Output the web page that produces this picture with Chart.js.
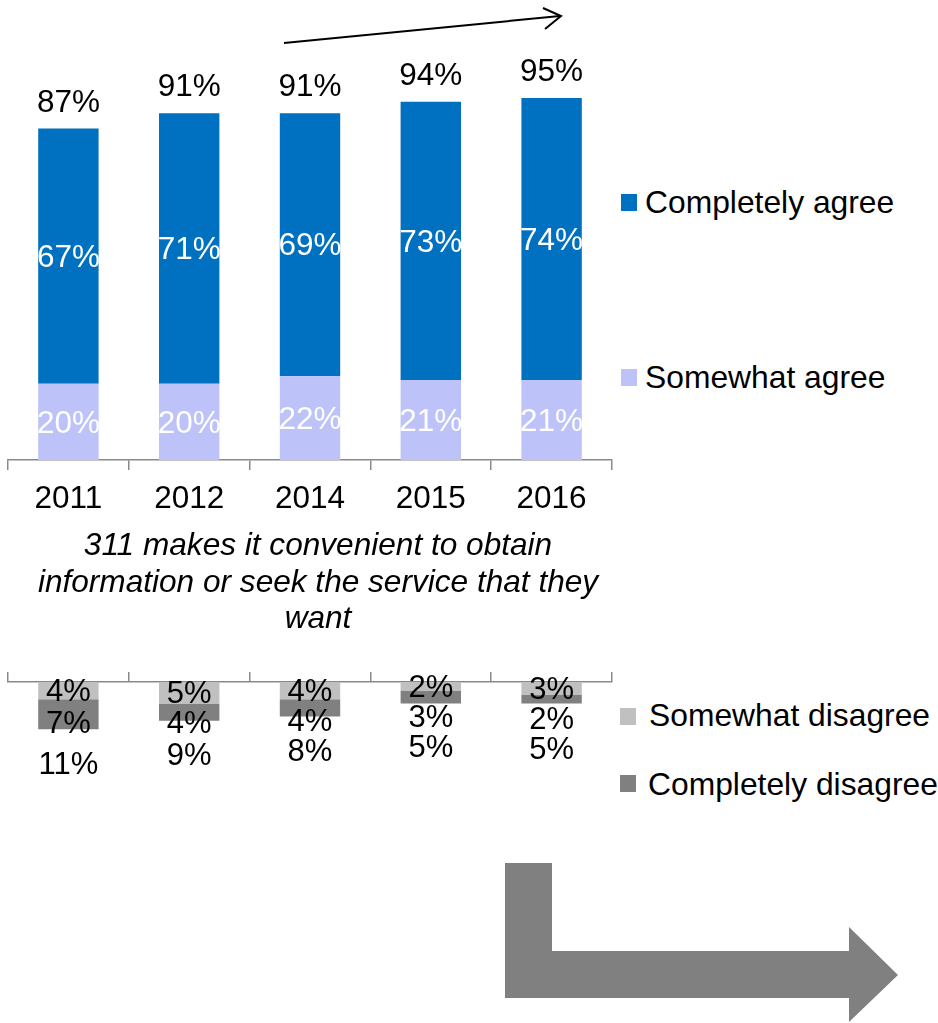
<!DOCTYPE html>
<html><head><meta charset="utf-8">
<script src="https://cdn.jsdelivr.net/npm/chart.js@4.4.0/dist/chart.umd.min.js"></script>
<style>
html,body{margin:0;padding:0;background:#fff;}
body{width:938px;height:1023px;position:relative;overflow:hidden;font-family:"Liberation Sans",Arial,sans-serif;}
#cTop{position:absolute;left:0;top:0;}
#cBot{position:absolute;left:0;top:600px;}
.title{position:absolute;left:0px;width:636px;top:526px;text-align:center;font-style:italic;font-size:31.6px;line-height:36.5px;color:#000;}
.sw{position:absolute;width:16px;height:17px;}
.lt{position:absolute;font-size:31.8px;line-height:31px;color:#000;white-space:nowrap;}
svg{position:absolute;left:0;top:0;}
</style></head>
<body>
<canvas id="cTop" width="620" height="540"></canvas>
<canvas id="cBot" width="620" height="300"></canvas>
<div class="title">311 makes it convenient to obtain<br>information or seek the service that they<br>want</div>
<div id="legend"></div>
<svg width="938" height="1023">
  <line x1="284" y1="43" x2="560" y2="16" stroke="#000" stroke-width="2"/>
  <polyline points="543,8 561,16 545,29" fill="none" stroke="#000" stroke-width="2"/>
  <polygon points="505,863 552,863 552,951 849,951 849,927 898,975 849,1022 849,998 505,998" fill="#808080"/>
</svg>
<script>
const categories = ['2011', '2012', '2014', '2015', '2016'];
const completelyAgree = [67, 71, 69, 73, 74];
const somewhatAgree = [20, 20, 22, 21, 21];
const agreeTotals = [87, 91, 91, 94, 95];
const somewhatDisagree = [4, 5, 4, 2, 3];
const completelyDisagree = [7, 4, 4, 3, 2];
const disagreeTotals = [11, 9, 8, 5, 5];
const seriesNames = ['Completely agree', 'Somewhat agree', 'Somewhat disagree', 'Completely disagree'];

const FONT = '"Liberation Sans", Arial, sans-serif';
const COL = {ca:'#0070C0', sa:'#BDC3F8', sd:'#C0C0C0', cd:'#808080'};
const AXIS = '#898989';

// legend
const legendItems = [
  {name:seriesNames[0], color:COL.ca, sx:621, sy:194, tx:645, ty:187},
  {name:seriesNames[1], color:COL.sa, sx:621, sy:369, tx:645, ty:362},
  {name:seriesNames[2], color:COL.sd, sx:620, sy:708, tx:649, ty:700},
  {name:seriesNames[3], color:COL.cd, sx:620, sy:775, tx:648, ty:769}
];
const lg = document.getElementById('legend');
legendItems.forEach(it=>{
  const s=document.createElement('div'); s.className='sw';
  s.style.left=it.sx+'px'; s.style.top=it.sy+'px'; s.style.background=it.color; lg.appendChild(s);
  const t=document.createElement('div'); t.className='lt';
  t.style.left=it.tx+'px'; t.style.top=it.ty+'px'; t.textContent=it.name; lg.appendChild(t);
});

const topLabels = {
  id:'topLabels',
  afterDatasetsDraw(chart){
    const ctx = chart.ctx;
    ctx.save();
    ctx.font = '31.5px ' + FONT;
    ctx.textAlign = 'center';
    ctx.textBaseline = 'middle';
    ctx.fillStyle = '#fff';
    chart.data.datasets.forEach((ds,i)=>{
      chart.getDatasetMeta(i).data.forEach((bar,j)=>{
        ctx.fillText(ds.data[j] + '%', bar.x, (bar.y + bar.base)/2 + 2);
      });
    });
    const last = chart.getDatasetMeta(chart.data.datasets.length - 1);
    ctx.fillStyle = '#000';
    ctx.textBaseline = 'alphabetic';
    last.data.forEach((bar,j)=>{ ctx.fillText(agreeTotals[j] + '%', bar.x, bar.y - 17); });
    ctx.restore();
  }
};

const botLabels = {
  id:'botLabels',
  afterDatasetsDraw(chart){
    const ctx = chart.ctx;
    ctx.save();
    ctx.font = '31px ' + FONT;
    ctx.textAlign = 'center';
    ctx.textBaseline = 'middle';
    ctx.fillStyle = '#000';
    const m0 = chart.getDatasetMeta(0), m1 = chart.getDatasetMeta(1);
    categories.forEach((c,j)=>{
      const b0 = m0.data[j], b1 = m1.data[j];
      const y0 = (b0.y + b0.base)/2 + 2;
      const y1 = Math.max((b1.y + b1.base)/2 + 10, y0 + 30);
      const y2 = Math.max(b1.y + 36, y1 + 30);
      ctx.fillText(somewhatDisagree[j] + '%', b0.x, y0);
      ctx.fillText(completelyDisagree[j] + '%', b1.x, y1);
      ctx.fillText(disagreeTotals[j] + '%', b1.x, y2);
    });
    ctx.restore();
  }
};

new Chart(document.getElementById('cTop'), {
  type:'bar',
  data:{labels:categories, datasets:[
    {label:seriesNames[1], data:somewhatAgree, backgroundColor:COL.sa},
    {label:seriesNames[0], data:completelyAgree, backgroundColor:COL.ca}
  ]},
  options:{
    responsive:false, animation:false, events:[],
    layout:{padding:{left:8, right:8, top:79, bottom:0}},
    datasets:{bar:{categoryPercentage:1, barPercentage:0.5}},
    plugins:{legend:{display:false}, tooltip:{enabled:false}},
    scales:{
      x:{stacked:true,
         grid:{offset:true, drawOnChartArea:false, drawTicks:true, tickLength:10, color:AXIS, lineWidth:1.5},
         border:{display:true, color:AXIS, width:1.5},
         ticks:{font:{family:FONT, size:31.5}, color:'#000', padding:10, maxRotation:0},
         afterFit:(s)=>{ s.height = 80; }},
      y:{stacked:true, display:false, min:0, max:100}
    }
  },
  plugins:[topLabels]
});

new Chart(document.getElementById('cBot'), {
  type:'bar',
  data:{labels:categories, datasets:[
    {label:seriesNames[2], data:somewhatDisagree, backgroundColor:COL.sd},
    {label:seriesNames[3], data:completelyDisagree, backgroundColor:COL.cd}
  ]},
  options:{
    responsive:false, animation:false, events:[],
    layout:{padding:{left:8, right:8, top:62, bottom:46}},
    datasets:{bar:{categoryPercentage:1, barPercentage:0.5}},
    plugins:{legend:{display:false}, tooltip:{enabled:false}},
    scales:{
      x:{stacked:true, position:'top',
         grid:{offset:true, drawOnChartArea:false, drawTicks:true, tickLength:10, color:AXIS, lineWidth:1.5},
         border:{display:true, color:AXIS, width:1.5},
         ticks:{display:false},
         afterFit:(s)=>{ s.height = 20; }},
      y:{stacked:true, display:false, reverse:true, min:0, max:40}
    }
  },
  plugins:[botLabels]
});
</script>
</body></html>
